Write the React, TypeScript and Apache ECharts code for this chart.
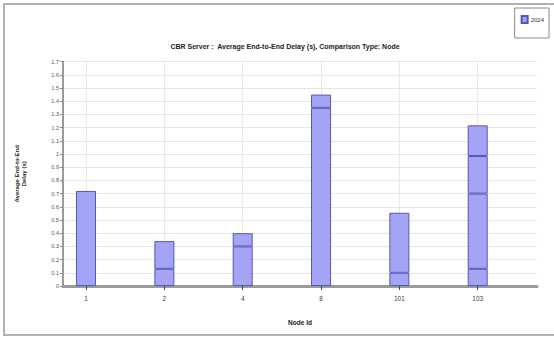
import React, { useEffect, useRef } from "react";
import * as echarts from "echarts";

// Node ids along the category axis
const nodeIds = ["1", "2", "4", "8", "101", "103"];

// Stacked delay segments (s) per node, bottom to top
const segment1 = [0.72, 0.13, 0.3, 1.35, 0.1, 0.13];
const segment2 = [null, 0.21, 0.1, 0.1, 0.455, 0.57];
const segment3 = [null, null, null, null, null, 0.285];
const segment4 = [null, null, null, null, null, 0.232];

const seriesName = "2024";
const titleText = "CBR Server :  Average End-to-End Delay (s), Comparison Type: Node";

const positions = nodeIds.map((_, i) => i);

export default function App() {
  const ref = useRef<HTMLDivElement>(null);

  useEffect(() => {
    if (!ref.current) return;
    const chart = echarts.init(ref.current, null, { renderer: "svg" });
    const segs = [segment1, segment2, segment3, segment4];
    const font = "Liberation Sans";
    chart.setOption({
      animation: false,
      backgroundColor: "#ffffff",
      textStyle: { fontFamily: font },
      title: {
        text: titleText,
        left: 280,
        textAlign: "center",
        top: 38,
        textStyle: { fontSize: 7, fontWeight: "bold", color: "#222", fontFamily: font },
      },
      legend: {
        data: [seriesName],
        right: 5,
        top: 8,
        orient: "vertical",
        borderColor: "#888",
        borderWidth: 1,
        padding: [7, 5, 14, 6],
        itemWidth: 6,
        itemHeight: 7,
        itemGap: 4,
        icon: "rect",
        textStyle: { fontSize: 6, color: "#333", padding: [0, 0, 0, -2] },
      },
      grid: { left: 63, right: 17, top: 61.6, bottom: 52 },
      xAxis: {
        type: "value",
        min: -0.294,
        max: 5.757,
        name: "Node Id",
        nameLocation: "middle",
        nameGap: 33,
        nameTextStyle: { fontSize: 6.5, fontWeight: "bold", color: "#222" },
        axisLine: { show: true, onZero: false, lineStyle: { color: "#9a9a9a", width: 3 } },
        axisTick: {
          show: true,
          customValues: positions,
          length: 4,
          inside: false,
          lineStyle: { color: "#3c3c8c", width: 1 },
        },
        axisLabel: {
          customValues: positions,
          formatter: (v: number) => nodeIds[Math.round(v)] ?? "",
          fontSize: 6.5,
          color: "#444",
          margin: 9,
        },
        splitLine: { show: true, lineStyle: { color: "#e6e6e6", width: 1 } },
      },
      yAxis: {
        type: "value",
        min: 0,
        max: 1.7,
        interval: 0.1,
        name: "Average End-to-End\nDelay (s)",
        nameLocation: "middle",
        nameRotate: 90,
        nameGap: 36,
        nameTextStyle: { fontSize: 6, fontWeight: "bold", color: "#222", lineHeight: 7 },
        axisLine: { show: true, onZero: false, lineStyle: { color: "#9a9a9a", width: 2 } },
        axisTick: { show: true, length: 3, lineStyle: { color: "#888" } },
        axisLabel: { fontSize: 5.5, color: "#555", margin: 4 },
        splitLine: { show: true, lineStyle: { color: "#e3e3e3", width: 1 } },
      },
      // value first so the stack runs along the delay dimension
      series: segs.map((seg) => ({
        type: "bar",
        name: seriesName,
        stack: "delay",
        barWidth: 20,
        encode: { x: 1, y: 0 },
        data: seg.map((v, i) => [v, positions[i]]),
        itemStyle: { color: "#a4a4f6", borderColor: "#5656b4", borderWidth: 1 },
      })),
      graphic: [
        {
          type: "polyline",
          shape: { points: [[600, 4], [4, 4], [4, 335], [600, 335]] },
          style: { stroke: "#b0b0b0", lineWidth: 2, fill: null },
          silent: true,
        },
      ],
    });
    return () => chart.dispose();
  }, []);

  return <div ref={ref} style={{ width: 554, height: 338, position: "absolute", left: 0, top: 0 }} />;
}
